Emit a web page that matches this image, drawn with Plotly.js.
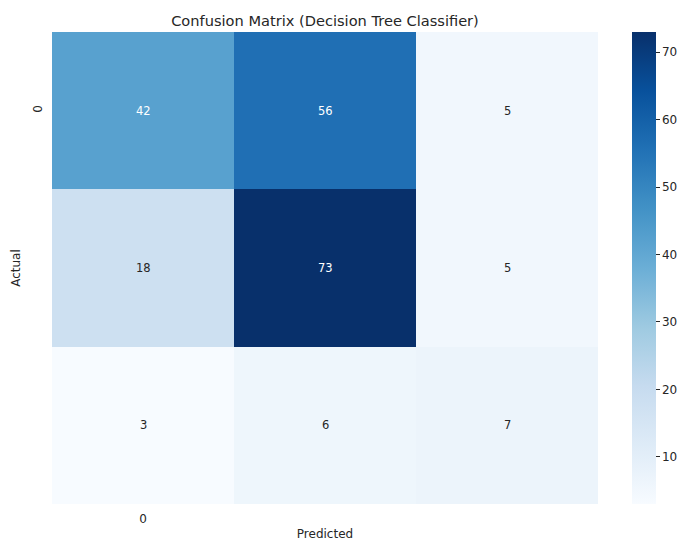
<!DOCTYPE html>
<html>
<head>
<meta charset="utf-8">
<script src="https://cdn.plot.ly/plotly-3.0.1.min.js"></script>
<style>
  html, body { margin: 0; padding: 0; background: #fff; }
  #chart { width: 681px; height: 541px; }
</style>
</head>
<body>
<div id="chart"></div>
<script>
// Confusion matrix counts: rows = actual class, columns = predicted class
const predictedLabels = ['0', '1', '2'];
const actualLabels = ['0', '1', '2'];
const row0 = [42, 56, 5];
const row1 = [18, 73, 5];
const row2 = [3, 6, 7];
const counts = [row0, row1, row2];

// Only the first category is labelled on each axis
const shownTicks = ['0'];

// Matplotlib-style "Blues" colour ramp
const blues = [
  [0.000, '#f7fbff'], [0.125, '#deebf7'], [0.250, '#c6dbef'],
  [0.375, '#9ecae1'], [0.500, '#6baed6'], [0.625, '#4292c6'],
  [0.750, '#2171b5'], [0.875, '#08519c'], [1.000, '#08306b']
];

const flat = counts.flat();
const zmin = Math.min(...flat);
const zmax = Math.max(...flat);

const FONT = 'DejaVu Sans';
const INK = '#262626';

// Cell annotations: light text on dark cells, dark text on light cells
const annotations = [];
counts.forEach((row, i) => {
  row.forEach((v, j) => {
    const frac = (v - zmin) / (zmax - zmin);
    annotations.push({
      x: predictedLabels[j], y: actualLabels[i], xref: 'x', yref: 'y',
      text: String(v), showarrow: false,
      font: { family: FONT, size: 11.5, color: frac > 0.5 ? '#ffffff' : INK }
    });
  });
});

const trace = {
  type: 'heatmap',
  x: predictedLabels,
  y: actualLabels,
  z: counts,
  zmin: zmin, zmax: zmax,
  colorscale: blues,
  xgap: 0, ygap: 0,
  hoverinfo: 'z',
  colorbar: {
    x: 1.0623, xanchor: 'left', xpad: 0,
    y: 0.5, yanchor: 'middle', ypad: 0,
    len: 1, lenmode: 'fraction',
    thickness: 24, thicknessmode: 'pixels',
    outlinewidth: 0,
    tickvals: [10, 20, 30, 40, 50, 60, 70],
    ticks: 'outside', ticklen: 4, tickwidth: 1, tickcolor: INK,
    tickfont: { family: FONT, size: 12, color: INK }
  }
};

const layout = {
  width: 681, height: 541,
  margin: { l: 52, r: 83, t: 32, b: 37, pad: 0, autoexpand: false },
  paper_bgcolor: '#ffffff', plot_bgcolor: '#ffffff',
  title: {
    text: 'Confusion Matrix (Decision Tree Classifier)',
    font: { family: FONT, size: 14.6, color: INK },
    x: 0.5, xref: 'paper', xanchor: 'center',
    y: 1, yref: 'paper', yanchor: 'bottom', pad: { b: 6 }
  },
  xaxis: {
    type: 'category',
    tickmode: 'array', tickvals: shownTicks, ticktext: shownTicks,
    ticks: '', showgrid: false, zeroline: false, showline: false,
    tickfont: { family: FONT, size: 12, color: INK },
    ticklabelstandoff: 6,
    title: { text: 'Predicted', standoff: 9, font: { family: FONT, size: 12, color: INK } }
  },
  yaxis: {
    type: 'category', autorange: 'reversed',
    tickmode: 'array', tickvals: shownTicks, ticktext: shownTicks,
    tickangle: -90,
    ticks: '', showgrid: false, zeroline: false, showline: false,
    tickfont: { family: FONT, size: 12, color: INK },
    ticklabelstandoff: 7,
    title: { text: 'Actual', standoff: 7, font: { family: FONT, size: 12, color: INK } }
  },
  annotations: annotations,
  showlegend: false
};

Plotly.newPlot('chart', [trace], layout, { displayModeBar: false, staticPlot: true });
</script>
</body>
</html>
